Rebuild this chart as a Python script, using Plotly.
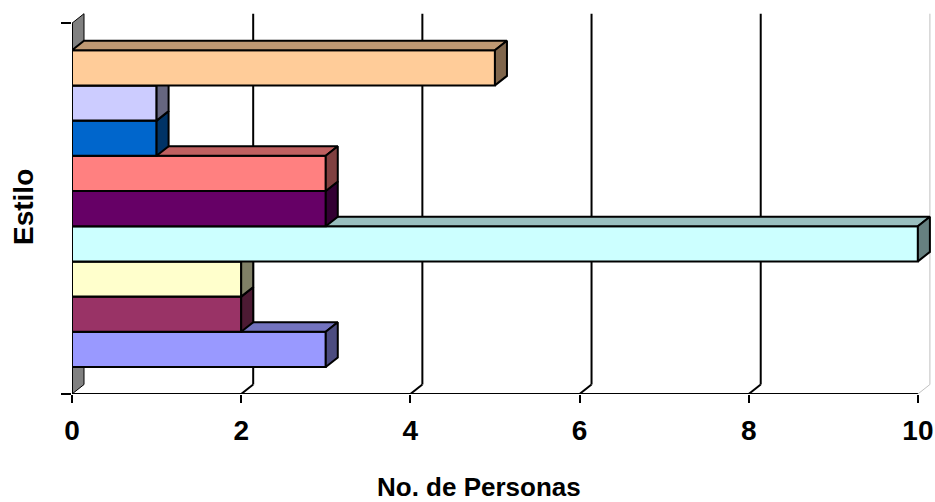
import plotly.graph_objects as go

# ---- data (bottom to top) ----
estilos = ["Estilo 1", "Estilo 2", "Estilo 3", "Estilo 4", "Estilo 5",
           "Estilo 6", "Estilo 7", "Estilo 8", "Estilo 9"]
personas = [3, 2, 2, 10, 3, 3, 1, 1, 5]
colores = ["#9999FF", "#993366", "#FFFFCC", "#CCFFFF", "#660066",
           "#FF8080", "#0066CC", "#CCCCFF", "#FFCC99"]
x_ticks = [0, 2, 4, 6, 8, 10]

# ---- style constants ----
DX = 0.142     # depth offset in x units
DY = 0.27      # depth offset in y units
GAP = 0.767    # space between bars block and floor/top
FONT = "Liberation Sans"


def shade(hexcol, f):
    h = hexcol.lstrip("#")
    r, g, b = (int(h[i:i + 2], 16) for i in (0, 2, 4))
    return "rgb(%d,%d,%d)" % (round(r * f), round(g * f), round(b * f))


n = len(personas)
ymin = 0.5 - GAP
ytopf = n + 0.5 + GAP
ymax = ymin + 383 / 35.2

fig = go.Figure()


def poly(xs, ys, fill, lw=2, lc="black"):
    fig.add_trace(go.Scatter(
        x=xs + [xs[0]], y=ys + [ys[0]], mode="lines", fill="toself",
        fillcolor=fill, line=dict(color=lc, width=lw),
        hoverinfo="skip", showlegend=False))


def seg(xs, ys, color, width):
    fig.add_trace(go.Scatter(
        x=xs, y=ys, mode="lines", line=dict(color=color, width=width),
        hoverinfo="skip", showlegend=False, cliponaxis=False))


# left wall
poly([0, DX, DX, 0], [ymin, ymin + DY, ytopf + DY, ytopf], "#808080", lw=1)

# back wall gridlines and floor diagonals
for t in x_ticks[1:]:
    col = "#C0C0C0" if t == x_ticks[-1] else "black"
    w = 1 if t == x_ticks[-1] else 2
    seg([t + DX, t + DX], [ymin + DY, ytopf + DY], col, w)
    seg([t, t + DX], [ymin, ymin + DY], col, w)

# 3D bars, drawn bottom to top
for i, (v, c) in enumerate(zip(personas, colores)):
    b = i + 0.5
    t = i + 1.5
    # front face
    poly([0, v, v, 0], [b, b, t, t], c)
    # top face
    poly([0, DX, v + DX, v], [t, t + DY, t + DY, t], shade(c, 0.75))
    # side face
    poly([v, v + DX, v + DX, v], [b, b + DY, t + DY, t], shade(c, 0.5))

# front axes
seg([0, x_ticks[-1]], [ymin, ymin], "black", 2)
seg([0, 0], [ymin, ytopf], "black", 2)

fig.update_layout(
    width=935, height=502,
    margin=dict(l=72, r=4, t=11, b=108),
    paper_bgcolor="white", plot_bgcolor="white",
    showlegend=False,
    xaxis=dict(range=[0, 10.155], tickvals=x_ticks, ticks="outside",
               ticklen=8, tickwidth=2, tickcolor="black",
               ticklabelstandoff=3, automargin=False,
               showgrid=False, zeroline=False, showline=False,
               tickfont=dict(family=FONT, size=28, color="black", weight="bold"),
               fixedrange=True),
    yaxis=dict(range=[ymin, ymax], tickvals=[ymin, ytopf], ticks="outside",
               ticklen=10, tickwidth=2, tickcolor="black", automargin=False,
               showticklabels=False, showgrid=False, zeroline=False,
               showline=False, fixedrange=True),
    annotations=[
        dict(text="No. de Personas", xref="paper", yref="paper",
             x=(479 - 72) / 859, y=-(487 - 394) / 383,
             xanchor="center", yanchor="middle", showarrow=False,
             font=dict(family=FONT, size=26, color="black", weight="bold")),
        dict(text="Estilo", xref="paper", yref="paper",
             x=-(72 - 23) / 859, y=(394 - 207) / 383, textangle=-90,
             xanchor="center", yanchor="middle", showarrow=False,
             font=dict(family=FONT, size=28, color="black", weight="bold")),
    ],
)

fig.write_html("out.html")
